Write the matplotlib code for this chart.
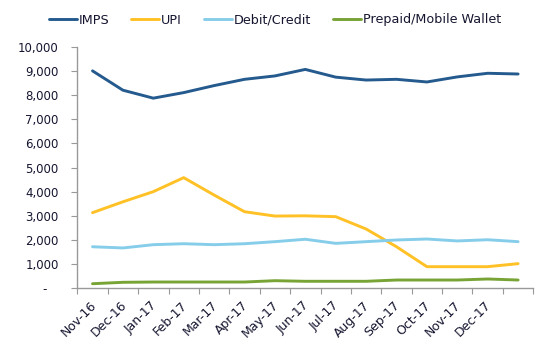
import matplotlib
matplotlib.use("Agg")
import matplotlib.pyplot as plt
import matplotlib.transforms as mtransforms
from matplotlib.ticker import FuncFormatter, FixedLocator
import numpy as np

months = ["Nov-16", "Dec-16", "Jan-17", "Feb-17", "Mar-17", "Apr-17", "May-17",
          "Jun-17", "Jul-17", "Aug-17", "Sep-17", "Oct-17", "Nov-17", "Dec-17", ""]
imps = [9000, 8200, 7870, 8100, 8390, 8650, 8790, 9060, 8740, 8620, 8650, 8540, 8750, 8900, 8870]
upi = [3130, 3580, 4000, 4580, 3860, 3170, 2990, 3000, 2965, 2455, 1720, 895, 895, 895, 1020]
debit = [1720, 1670, 1805, 1845, 1805, 1845, 1930, 2030, 1860, 1930, 2000, 2040, 1960, 2010, 1930]
prepaid = [190, 248, 260, 260, 260, 260, 315, 290, 290, 290, 343, 343, 343, 385, 343]

series = [("IMPS", imps, "#245A8D"), ("UPI", upi, "#FFC125"),
          ("Debit/Credit", debit, "#86CDEA"), ("Prepaid/Mobile Wallet", prepaid, "#78A436")]

text_col = "#151530"
plt.rcParams['font.family'] = ['DejaVu Sans']
fig = plt.figure(figsize=(5.5, 3.62), dpi=100)
ax = fig.add_axes([77.3/550, 1-288.3/362, (533.3-77.3)/550, (288.3-46.7)/362])

x = np.arange(len(months))
for name, vals, col in series:
    ax.plot(x, vals, color=col, lw=2.1, label=name, solid_capstyle='round')

ax.set_xlim(-0.5, len(months)-0.5)
ax.set_ylim(0, 10000)
ax.set_yticks(np.arange(0, 10001, 1000))
ax.yaxis.set_major_formatter(FuncFormatter(lambda v, p: "-\u2007 " if v == 0 else f"{int(v):,}"))

ax.xaxis.set_major_locator(FixedLocator(np.arange(-0.5, len(months), 1)))
ax.xaxis.set_major_formatter(FuncFormatter(lambda v, p: ""))
ax.xaxis.set_minor_locator(FixedLocator(x))
ax.set_xticklabels(months, minor=True)
ax.tick_params(axis='x', which='minor', length=0, labelsize=9, pad=7.5, labelcolor=text_col)
ax.tick_params(axis='x', which='major', length=4, color='#999999', direction='out')
ax.tick_params(axis='y', length=4, color='#999999', direction='out', labelsize=8.5, pad=9.5,
               labelcolor=text_col)
offset = mtransforms.ScaledTranslation(-3/100, 0, fig.dpi_scale_trans)
for lbl in ax.get_xticklabels(minor=True):
    lbl.set_rotation(45)
    lbl.set_ha('right')
    lbl.set_rotation_mode('anchor')
    lbl.set_transform(lbl.get_transform() + offset)

for s in ['top', 'right']:
    ax.spines[s].set_visible(False)
for s in ['left', 'bottom']:
    ax.spines[s].set_color('#999999')
    ax.spines[s].set_linewidth(1.0)

leg = fig.legend(loc='center', bbox_to_anchor=(0.5, 1-20/362), ncol=4, frameon=False,
                 fontsize=9.2, handlelength=2.2, handletextpad=0.15, columnspacing=1.7)
for t in leg.get_texts():
    t.set_color(text_col)

fig.savefig("out.png", dpi=100)
